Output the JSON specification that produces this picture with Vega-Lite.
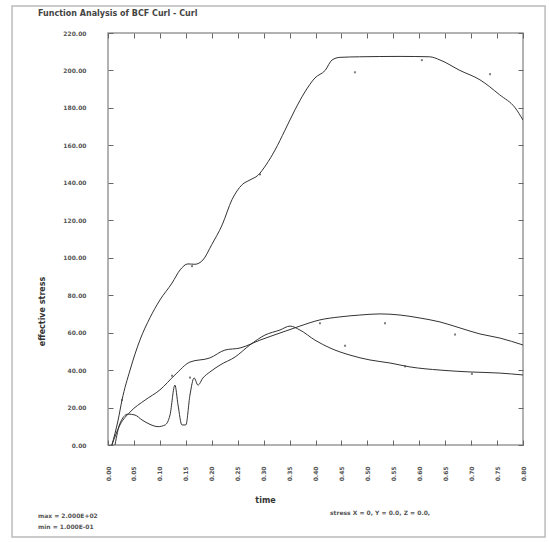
{
  "$schema": "https://vega.github.io/schema/vega-lite/v6.json",
  "width": 415,
  "height": 412,
  "autosize": {"type": "none"},
  "padding": {"left": 108, "top": 33, "right": 26, "bottom": 97},
  "background": "white",
  "title": {"text": "Function Analysis of BCF Curl - Curl", "anchor": "start", "frame": "group", "dx": -70, "offset": -13, "fontSize": 8, "font": "DejaVu Sans", "fontWeight": "bold", "color": "#444"},
  "config": {
    "view": {"stroke": "#999", "strokeWidth": 1.5},
    "axis": {"domain": false, "grid": false, "ticks": true, "tickColor": "#666", "tickWidth": 1, "tickSize": 5, "offset": -5, "labelFont": "DejaVu Sans", "labelFontSize": 6, "labelFontWeight": "bold", "labelColor": "#555", "titleFont": "DejaVu Sans", "titleFontWeight": "bold", "titleColor": "#333", "titleFontSize": 8}
  },
  "datasets": {
    "curves": [
      {"t": 0.15, "stress": 0, "s": "A"}, {"t": 0.39, "stress": 13.3, "s": "A"}, {"t": 0.54, "stress": 24, "s": "A"}, {"t": 0.85, "stress": 40, "s": "A"}, {"t": 1.23, "stress": 56, "s": "A"}, {"t": 1.62, "stress": 68, "s": "A"}, {"t": 2.0, "stress": 77.4, "s": "A"}, {"t": 2.47, "stress": 86.5, "s": "A"}, {"t": 2.78, "stress": 93.5, "s": "A"}, {"t": 3.08, "stress": 96.7, "s": "A"}, {"t": 3.35, "stress": 96.5, "s": "A"}, {"t": 3.66, "stress": 98.8, "s": "A"}, {"t": 4.0, "stress": 107, "s": "A"}, {"t": 4.4, "stress": 117.5, "s": "A"}, {"t": 4.78, "stress": 131, "s": "A"}, {"t": 5.17, "stress": 139, "s": "A"}, {"t": 5.47, "stress": 141.5, "s": "A"}, {"t": 5.78, "stress": 144, "s": "A"}, {"t": 6.09, "stress": 149.5, "s": "A"}, {"t": 6.44, "stress": 157.5, "s": "A"}, {"t": 6.82, "stress": 168, "s": "A"}, {"t": 7.21, "stress": 179, "s": "A"}, {"t": 7.59, "stress": 188.5, "s": "A"}, {"t": 7.98, "stress": 196, "s": "A"}, {"t": 8.37, "stress": 200, "s": "A"}, {"t": 8.64, "stress": 205.6, "s": "A"}, {"t": 8.94, "stress": 207, "s": "A"}, {"t": 9.7, "stress": 207.3, "s": "A"}, {"t": 11.26, "stress": 207.5, "s": "A"}, {"t": 12.4, "stress": 207.3, "s": "A"}, {"t": 12.8, "stress": 205.6, "s": "A"}, {"t": 13.57, "stress": 200, "s": "A"}, {"t": 14.34, "stress": 195, "s": "A"}, {"t": 15.1, "stress": 187, "s": "A"}, {"t": 15.7, "stress": 180, "s": "A"}, {"t": 16, "stress": 173.5, "s": "A"},
      {"t": 0.15, "stress": 0, "s": "B"}, {"t": 0.46, "stress": 10.7, "s": "B"}, {"t": 0.85, "stress": 17.6, "s": "B"}, {"t": 1.43, "stress": 24, "s": "B"}, {"t": 2.0, "stress": 29.4, "s": "B"}, {"t": 2.58, "stress": 37.4, "s": "B"}, {"t": 3.16, "stress": 44.3, "s": "B"}, {"t": 3.93, "stress": 46.5, "s": "B"}, {"t": 4.51, "stress": 50.7, "s": "B"}, {"t": 5.09, "stress": 51.8, "s": "B"}, {"t": 5.86, "stress": 56, "s": "B"}, {"t": 6.63, "stress": 59.8, "s": "B"}, {"t": 7.4, "stress": 63.5, "s": "B"}, {"t": 8.17, "stress": 66.8, "s": "B"}, {"t": 8.94, "stress": 68.4, "s": "B"}, {"t": 9.71, "stress": 69.4, "s": "B"}, {"t": 10.49, "stress": 70, "s": "B"}, {"t": 11.26, "stress": 69.4, "s": "B"}, {"t": 12.03, "stress": 67.8, "s": "B"}, {"t": 12.8, "stress": 65.7, "s": "B"}, {"t": 13.57, "stress": 62.5, "s": "B"}, {"t": 14.34, "stress": 59.3, "s": "B"}, {"t": 15.11, "stress": 57.1, "s": "B"}, {"t": 16, "stress": 53.4, "s": "B"},
      {"t": 0.27, "stress": 0, "s": "C"}, {"t": 0.46, "stress": 11.5, "s": "C"}, {"t": 0.77, "stress": 16.5, "s": "C"}, {"t": 1.04, "stress": 16, "s": "C"}, {"t": 1.31, "stress": 13.4, "s": "C"}, {"t": 1.62, "stress": 11, "s": "C"}, {"t": 1.93, "stress": 9.8, "s": "C"}, {"t": 2.2, "stress": 10.7, "s": "C"}, {"t": 2.39, "stress": 16, "s": "C"}, {"t": 2.58, "stress": 32, "s": "C"}, {"t": 2.7, "stress": 21.4, "s": "C"}, {"t": 2.85, "stress": 10.7, "s": "C"}, {"t": 3.0, "stress": 10.7, "s": "C"}, {"t": 3.16, "stress": 26.7, "s": "C"}, {"t": 3.32, "stress": 35.8, "s": "C"}, {"t": 3.47, "stress": 32, "s": "C"}, {"t": 3.66, "stress": 35.8, "s": "C"}, {"t": 3.93, "stress": 39, "s": "C"}, {"t": 4.32, "stress": 42.7, "s": "C"}, {"t": 4.9, "stress": 47, "s": "C"}, {"t": 5.47, "stress": 53.4, "s": "C"}, {"t": 6.05, "stress": 58.7, "s": "C"}, {"t": 6.63, "stress": 61.4, "s": "C"}, {"t": 7.02, "stress": 63.5, "s": "C"}, {"t": 7.4, "stress": 61.4, "s": "C"}, {"t": 7.98, "stress": 56, "s": "C"}, {"t": 8.56, "stress": 51.8, "s": "C"}, {"t": 9.33, "stress": 48, "s": "C"}, {"t": 10.1, "stress": 45.4, "s": "C"}, {"t": 10.87, "stress": 43.8, "s": "C"}, {"t": 11.64, "stress": 41.7, "s": "C"}, {"t": 12.8, "stress": 40, "s": "C"}, {"t": 13.96, "stress": 39, "s": "C"}, {"t": 15.11, "stress": 38.4, "s": "C"}, {"t": 16, "stress": 37.4, "s": "C"}
    ],
    "markers": [
      {"t": 0.54, "stress": 24}, {"t": 3.24, "stress": 95.5}, {"t": 5.86, "stress": 144.5}, {"t": 9.52, "stress": 199}, {"t": 12.1, "stress": 205.5}, {"t": 14.73, "stress": 198},
      {"t": 2.47, "stress": 37}, {"t": 8.17, "stress": 65}, {"t": 10.68, "stress": 65}, {"t": 13.38, "stress": 59},
      {"t": 3.16, "stress": 36}, {"t": 9.14, "stress": 53}, {"t": 11.45, "stress": 42}, {"t": 14.03, "stress": 38}
    ]
  },
  "resolve": {"axis": {"x": "independent", "y": "independent"}},
  "layer": [
    {
      "data": {"values": [{"frame": "outer"}]},
      "mark": {"type": "rect", "fill": null, "filled": false, "stroke": "#bbb", "strokeWidth": 1.5, "clip": false},
      "encoding": {
        "x": {"datum": -3.7, "type": "quantitative", "axis": null},
        "x2": {"datum": 16.85},
        "y": {"datum": 234.4, "type": "quantitative", "axis": null},
        "y2": {"datum": -49.1}
      }
    },
    {
      "data": {"name": "curves"},
      "mark": {"type": "line", "interpolate": "monotone", "strokeWidth": 1, "clip": true},
      "encoding": {
        "x": {"field": "t", "type": "quantitative", "scale": {"domain": [0, 16], "nice": false, "zero": false},
          "axis": {"orient": "bottom", "values": [0,1,2,3,4,5,6,7,8,9,10,11,12,13,14,15,16], "labelExpr": "format(datum.value * 0.05, '.2f')", "labelAngle": -90, "labelAlign": "right", "labelBaseline": "middle", "labelPadding": 21, "title": "time", "titleX": 157, "titleY": 60, "titleAnchor": "middle", "titleBaseline": "middle"}},
        "y": {"field": "stress", "type": "quantitative", "scale": {"domain": [0, 220], "nice": false},
          "axis": {"orient": "left", "values": [0,20,40,60,80,100,120,140,160,180,200,220], "format": ".2f", "labelPadding": 22, "title": "effective stress", "titleX": -71, "titleY": 278, "titleAngle": -90, "titleAnchor": "middle", "titleBaseline": "middle"}},
        "detail": {"field": "s"},
        "color": {"value": "#333"}
      }
    },
    {
      "data": {"name": "markers"},
      "mark": {"type": "point", "shape": "square", "size": 4, "filled": true, "color": "#444"},
      "encoding": {
        "x": {"field": "t", "type": "quantitative", "axis": {"orient": "top", "values": [0,1,2,3,4,5,6,7,8,9,10,11,12,13,14,15,16], "labels": false, "title": null}},
        "y": {"field": "stress", "type": "quantitative", "axis": {"orient": "right", "values": [0,20,40,60,80,100,120,140,160,180,200,220], "labels": false, "title": null}}
      }
    },
    {
      "data": {"values": [{"line": "max = 2.000E+02"}]},
      "mark": {"type": "text", "align": "left", "baseline": "middle", "font": "DejaVu Sans", "fontSize": 6, "fontWeight": "bold", "color": "#555"},
      "encoding": {"x": {"datum": -2.7, "type": "quantitative", "axis": null}, "y": {"datum": -38, "type": "quantitative", "axis": null}, "text": {"field": "line"}}
    },
    {
      "data": {"values": [{"line": "min = 1.000E-01"}]},
      "mark": {"type": "text", "align": "left", "baseline": "middle", "font": "DejaVu Sans", "fontSize": 6, "fontWeight": "bold", "color": "#555"},
      "encoding": {"x": {"datum": -2.7, "type": "quantitative", "axis": null}, "y": {"datum": -44, "type": "quantitative", "axis": null}, "text": {"field": "line"}}
    },
    {
      "data": {"values": [{"line": "stress      X = 0,      Y = 0.0,      Z = 0.0,"}]},
      "mark": {"type": "text", "align": "left", "baseline": "middle", "font": "DejaVu Sans", "fontSize": 6, "fontWeight": "bold", "color": "#555"},
      "encoding": {"x": {"datum": 8.56, "type": "quantitative", "axis": null}, "y": {"datum": -36.5, "type": "quantitative", "axis": null}, "text": {"field": "line"}}
    }
  ]
}
